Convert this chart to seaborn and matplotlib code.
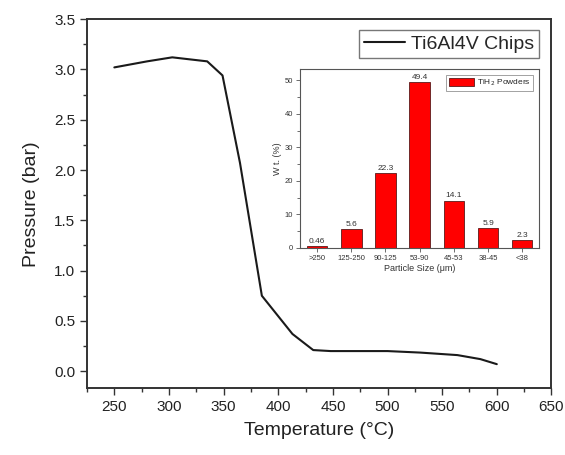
import numpy as np
import pandas as pd
import seaborn as sns
import matplotlib.pyplot as plt
from matplotlib.ticker import MultipleLocator

sns.set_style("ticks")
plt.rcParams["font.family"] = ["Liberation Sans", "DejaVu Sans"]

# Main curve: pressure vs temperature
temperature = [250, 280, 303, 335, 349, 365, 385, 413, 432, 448, 500, 530, 564, 585, 600]
pressure = [3.02, 3.08, 3.12, 3.08, 2.94, 2.07, 0.75, 0.37, 0.21, 0.20, 0.20, 0.185, 0.16, 0.12, 0.07]

# Inset: particle size distribution
size_bins = [">250", "125-250", "90-125", "53-90", "45-53", "38-45", "<38"]
weight_pct = [0.46, 5.6, 22.3, 49.4, 14.1, 5.9, 2.3]
bar_labels = ["0.46", "5.6", "22.3", "49.4", "14.1", "5.9", "2.3"]

main = pd.DataFrame({"T": temperature, "P": pressure})
dist = pd.DataFrame({"size": size_bins, "wt": weight_pct})

fig = plt.figure(figsize=(5.65, 4.55), dpi=100)
ax = fig.add_axes([0.154, 0.1466, 0.822, 0.8114])

sns.lineplot(data=main, x="T", y="P", ax=ax, color="#1a1a1a", linewidth=1.5,
             label="Ti6Al4V Chips")
ax.set_xlim(225, 650)
ax.set_ylim(-0.17, 3.5)
ax.xaxis.set_major_locator(MultipleLocator(50))
ax.xaxis.set_minor_locator(MultipleLocator(25))
ax.yaxis.set_major_locator(MultipleLocator(0.5))
ax.yaxis.set_minor_locator(MultipleLocator(0.25))
ax.yaxis.set_major_formatter(plt.FormatStrFormatter("%.1f"))
ax.tick_params(which="major", direction="out", length=5, width=1, labelsize=11,
               colors="#333333", labelcolor="#222222")
ax.tick_params(which="minor", direction="out", length=3, width=1, colors="#333333")
ax.set_xlabel("Temperature (°C)", fontsize=14, color="#222222", labelpad=6)
ax.set_ylabel("Pressure (bar)", fontsize=14, color="#222222", labelpad=10)
for s in ax.spines.values():
    s.set_linewidth(1.4)
    s.set_color("#333333")
leg = ax.legend(loc="upper right", fontsize=14, frameon=True, fancybox=False,
                handlelength=2.1, borderpad=0.25, borderaxespad=0,
                bbox_to_anchor=(0.973, 0.970), handletextpad=0.3)
leg.get_frame().set_edgecolor("#555555")
leg.get_frame().set_linewidth(1)

# Inset bar chart
ins = fig.add_axes([0.531, 0.4556, 0.4235, 0.392])
sns.barplot(data=dist, x="size", y="wt", ax=ins, color="#ff0000", width=0.6,
            saturation=1, edgecolor="#5a1a1a", linewidth=0.6, label="TiH$_2$ Powders")
ins.bar_label(ins.containers[0], labels=bar_labels, fontsize=6, padding=1, color="#333333")
ins.set_xlim(-0.5, 6.5)
ins.set_ylim(0, 53.3)
ins.yaxis.set_major_locator(MultipleLocator(10))
ins.yaxis.set_minor_locator(MultipleLocator(5))
ins.tick_params(which="major", direction="out", length=3, width=0.6, labelsize=5.5,
                colors="#555555", labelcolor="#333333", pad=2)
ins.tick_params(which="minor", direction="out", length=2, width=0.6, colors="#555555")
ins.tick_params(axis="x", which="minor", bottom=False)
ins.set_xlabel("Particle Size (μm)", fontsize=6.5, color="#333333", labelpad=2)
ins.set_ylabel("W t. (%)", fontsize=6.5, color="#333333", labelpad=2)
for s in ins.spines.values():
    s.set_linewidth(0.8)
    s.set_color("#555555")
ileg = ins.legend(loc="upper right", fontsize=6, frameon=True, fancybox=False,
                  handlelength=3, handleheight=1.2, borderpad=0.3, handletextpad=0.4,
                  borderaxespad=0, bbox_to_anchor=(0.974, 0.968))
ileg.get_frame().set_edgecolor("#777777")
ileg.get_frame().set_linewidth(0.6)

fig.savefig("out.png", dpi=100)
